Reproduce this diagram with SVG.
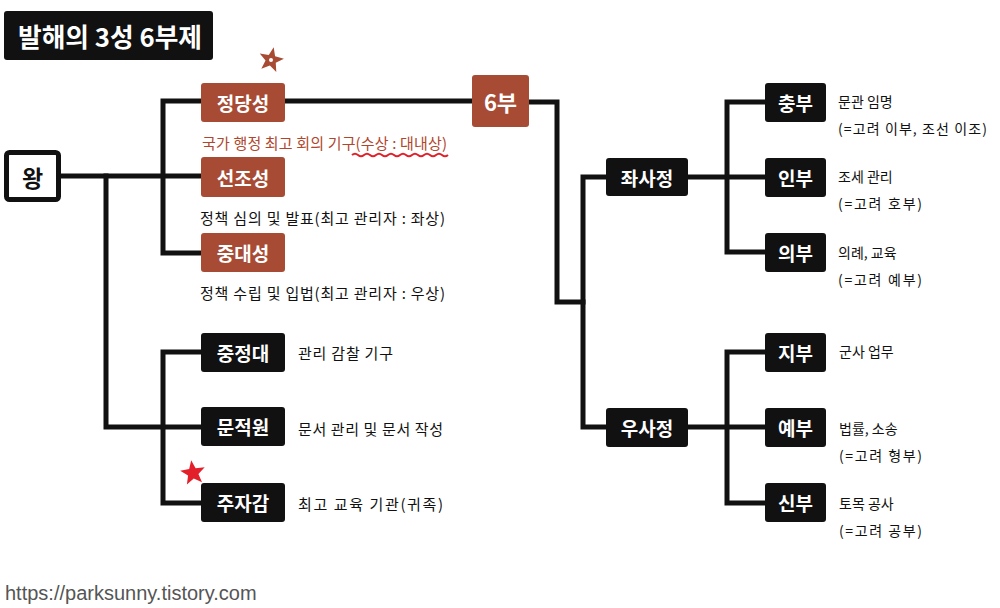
<svg xmlns="http://www.w3.org/2000/svg" width="1000" height="608" viewBox="0 0 1000 608">
<defs>
<style>
text{font-family:"Noto Sans CJK KR","Noto Sans",sans-serif;dominant-baseline:central}
.lbl{font-size:19px;font-weight:700;fill:#fff;text-anchor:middle}
.desc{font-size:15px;fill:#111}
.rd{font-size:14px;fill:#111}
.red{font-size:15px;fill:#b0462d}
.black{fill:#111}
.brown{fill:#a84b34}
.conn{fill:none;stroke:#111;stroke-width:5;stroke-linejoin:miter;stroke-linecap:square}
</style>
<polygon id="star" points="0,-13 3.23,-4.45 12.36,-4.02 5.23,1.7 7.64,10.52 0,5.5 -7.64,10.52 -5.23,1.7 -12.36,-4.02 -3.23,-4.45"/>
</defs>
<rect width="1000" height="608" fill="#fff"/>

<g id="title">
<rect x="4" y="11" width="209" height="49" rx="3" class="black"/>
<text x="110" y="35.5" textLength="184" lengthAdjust="spacingAndGlyphs" style="font-size:26px;font-weight:700;fill:#fff;text-anchor:middle">발해의 3성 6부제</text>
</g>

<g id="connectors">
<path class="conn" d="M61 176 H200"/>
<path class="conn" d="M200 101 H163 V253 H200"/>
<path class="conn" d="M106 176 V427 H200"/>
<path class="conn" d="M200 352 H163 V503 H200"/>
<path class="conn" d="M285 101 H472"/>
<path class="conn" d="M529 102 H557 V302 H583"/>
<path class="conn" d="M606 177 H583 V427 H606"/>
<path class="conn" d="M688 177 H765"/>
<path class="conn" d="M765 102 H727 V252 H765"/>
<path class="conn" d="M688 427 H765"/>
<path class="conn" d="M765 352 H727 V503 H765"/>
</g>

<g id="wang">
<rect x="6.5" y="152.5" width="52" height="47" rx="3" fill="#fff" stroke="#111" stroke-width="5"/>
<text x="32.5" y="177" style="font-size:23px;font-weight:700;fill:#111;text-anchor:middle">왕</text>
</g>

<g id="jeongdangseong">
<rect x="201" y="83" width="84" height="39" rx="3" class="brown"/>
<text x="243" y="102.5" class="lbl">정당성</text>
<text x="202" y="142" class="red" textLength="245" lengthAdjust="spacing">국가 행정 최고 회의 기구(수상 : 대내상)</text>
<path d="M352 155 q3 -2.5 6 0 t6 0 t6 0 t6 0 t6 0 t6 0 t6 0 t6 0 t6 0 t6 0 t6 0 t6 0 t6 0 t6 0 t6 0 t6 0" fill="none" stroke="#e3202a" stroke-width="2"/>
</g>

<g id="seonjoseong">
<rect x="201" y="157" width="84" height="40" rx="3" class="brown"/>
<text x="243" y="177" class="lbl">선조성</text>
<text x="200" y="217" class="desc" textLength="245" lengthAdjust="spacing">정책 심의 및 발표(최고 관리자 : 좌상)</text>
</g>

<g id="jungdaeseong">
<rect x="201" y="233" width="84" height="39" rx="3" class="brown"/>
<text x="243" y="252.5" class="lbl">중대성</text>
<text x="200" y="292" class="desc" textLength="245" lengthAdjust="spacing">정책 수립 및 입법(최고 관리자 : 우상)</text>
</g>

<g id="jungjeongdae">
<rect x="201" y="333" width="84" height="39" rx="3" class="black"/>
<text x="243" y="352.5" class="lbl">중정대</text>
<text x="298" y="352" class="desc" textLength="95" lengthAdjust="spacing">관리 감찰 기구</text>
</g>

<g id="munjeogwon">
<rect x="201" y="407" width="84" height="39" rx="3" class="black"/>
<text x="243" y="426.5" class="lbl">문적원</text>
<text x="298" y="428" class="desc" textLength="145" lengthAdjust="spacing">문서 관리 및 문서 작성</text>
</g>

<g id="jujagam">
<rect x="201" y="483" width="84" height="39" rx="3" class="black"/>
<text x="243" y="502.5" class="lbl">주자감</text>
<text x="298" y="503" class="desc" textLength="145" lengthAdjust="spacing">최고 교육 기관(귀족)</text>
</g>

<g id="yukbu">
<rect x="472" y="75" width="57" height="52" rx="3" class="brown"/>
<text x="500.5" y="101" class="lbl" style="font-size:22px">6부</text>
</g>

<g id="jwasajeong">
<rect x="606" y="158" width="82" height="38" rx="3" class="black"/>
<text x="647" y="177" class="lbl">좌사정</text>
</g>

<g id="usajeong">
<rect x="606" y="408" width="82" height="39" rx="3" class="black"/>
<text x="647" y="427.5" class="lbl">우사정</text>
</g>

<g id="chungbu">
<rect x="765" y="83" width="61" height="39" rx="3" class="black"/>
<text x="795.5" y="102.5" class="lbl">충부</text>
<text x="838" y="101" class="rd">문관 임명</text>
<text x="838" y="128" class="rd" textLength="149" lengthAdjust="spacing">(=고려 이부, 조선 이조)</text>
</g>

<g id="inbu">
<rect x="765" y="158" width="61" height="39" rx="3" class="black"/>
<text x="795.5" y="177.5" class="lbl">인부</text>
<text x="838" y="176" class="rd">조세 관리</text>
<text x="838" y="203" class="rd" textLength="84" lengthAdjust="spacing">(=고려 호부)</text>
</g>

<g id="uibu">
<rect x="765" y="233" width="61" height="39" rx="3" class="black"/>
<text x="795.5" y="252.5" class="lbl">의부</text>
<text x="838" y="252" class="rd">의례, 교육</text>
<text x="838" y="279" class="rd" textLength="84" lengthAdjust="spacing">(=고려 예부)</text>
</g>

<g id="jibu">
<rect x="765" y="333" width="61" height="39" rx="3" class="black"/>
<text x="795.5" y="352.5" class="lbl">지부</text>
<text x="839" y="351" class="rd">군사 업무</text>
</g>

<g id="yebu">
<rect x="765" y="408" width="61" height="39" rx="3" class="black"/>
<text x="795.5" y="427.5" class="lbl">예부</text>
<text x="839" y="428" class="rd">법률, 소송</text>
<text x="839" y="455" class="rd" textLength="83" lengthAdjust="spacing">(=고려 형부)</text>
</g>

<g id="sinbu">
<rect x="765" y="483" width="61" height="39" rx="3" class="black"/>
<text x="795.5" y="502.5" class="lbl">신부</text>
<text x="839" y="503" class="rd">토목 공사</text>
<text x="839" y="530" class="rd" textLength="83" lengthAdjust="spacing">(=고려 공부)</text>
</g>

<g id="stars">
<use href="#star" transform="translate(271 60) rotate(12)" fill="#a84b34"/>
<circle cx="271" cy="60" r="2" fill="#fff"/>
<use href="#star" transform="translate(193 473) rotate(-8)" fill="#e3202a"/>
</g>

<text x="5" y="593" style="font-family:'Liberation Sans',Arial,sans-serif;font-size:20px;fill:#555">https://parksunny.tistory.com</text>
</svg>
